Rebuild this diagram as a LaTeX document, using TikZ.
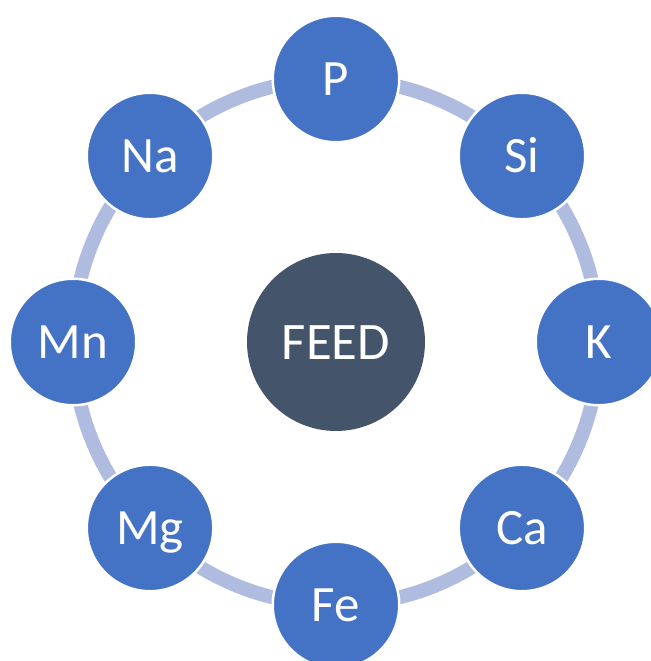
\documentclass[tikz,border=0pt]{standalone}
\usepackage{fontspec}
\setmainfont{Carlito}
\usepackage{tikz}
\definecolor{ringblue}{HTML}{B0BCDF}
\definecolor{elemblue}{HTML}{4472C4}
\definecolor{feedgray}{HTML}{44546A}
\tikzset{
	elem/.style={circle, fill=elemblue, draw=white, line width=0.05cm, minimum size=2.53cm,
		inner sep=0pt, text=white, text height=0.65cm, text depth=0pt,
		font=\fontsize{29}{29}\selectfont},
	feed/.style={circle, fill=feedgray, minimum size=3.56cm, inner sep=0pt, text=white,
		text height=0.68cm, text depth=0pt, font=\fontsize{30}{30}\selectfont}
}

\begin{document}
\begin{tikzpicture}
		%%%%% START %%%%%
		\useasboundingbox (-6.72, -6.38) rectangle (6.30, 6.84);
		
		\node[feed] (feed) at (0, 0) {FEED};
		
		% ring behind the elements
		\draw[ringblue, line width=0.28cm] (feed.center) circle (5.26);
		
		\node[elem] (p)  at (90:5.26)   {P};
		\node[elem] (si) at (45:5.26)   {Si};
		\node[elem] (k)  at (0:5.26)    {K};
		\node[elem] (ca) at (-45:5.26)  {Ca};
		\node[elem] (fe) at (-90:5.26)  {Fe};
		\node[elem] (mg) at (-135:5.26) {Mg};
		\node[elem] (mn) at (180:5.26)  {Mn};
		\node[elem] (na) at (135:5.26)  {Na};
		%%%%% END %%%%%
	\end{tikzpicture}
\end{document}
